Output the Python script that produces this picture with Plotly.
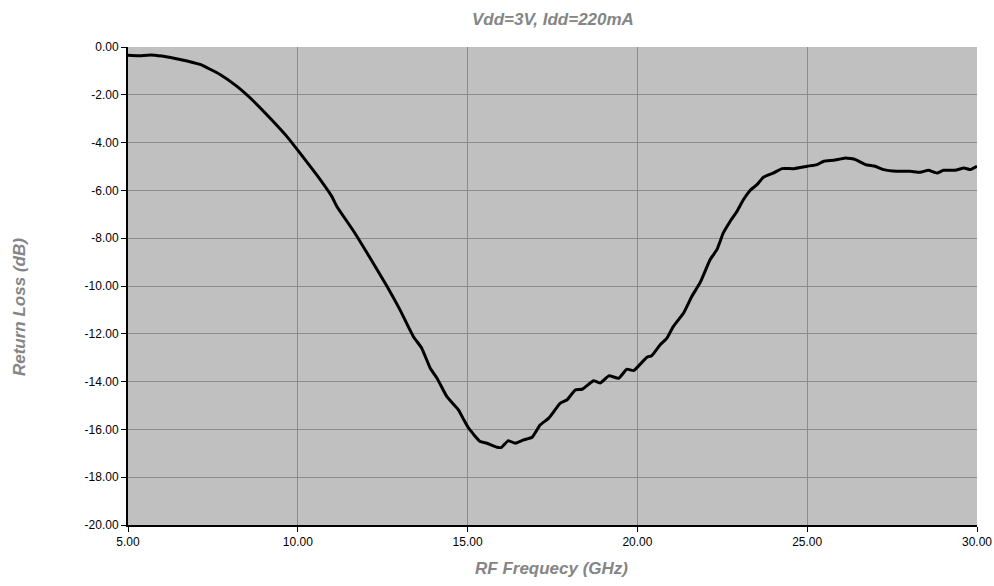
import plotly.graph_objects as go

freq_ghz = [5.0, 5.3, 5.65, 6.0, 6.53, 7.12, 7.71, 8.2, 8.7, 9.18, 9.67, 10.02, 10.66, 11.0, 11.15,
            11.65, 12.13, 12.63, 13.01, 13.4, 13.65, 13.9, 14.1, 14.39, 14.73, 14.89, 15.03, 15.37,
            15.57, 15.87, 16.0, 16.2, 16.4, 16.65, 16.9, 17.14, 17.39, 17.73, 17.93, 18.17, 18.37,
            18.61, 18.71, 18.9, 19.16, 19.45, 19.69, 19.89, 20.28, 20.42, 20.67, 20.87, 21.06, 21.36,
            21.6, 21.85, 22.14, 22.34, 22.53, 22.73, 22.93, 23.12, 23.32, 23.52, 23.72, 24.01, 24.26,
            24.6, 25.0, 25.29, 25.49, 25.78, 26.13, 26.42, 26.72, 27.0, 27.25, 27.64, 28.03, 28.33,
            28.57, 28.82, 29.01, 29.36, 29.61, 29.8, 30.0]
return_loss_db = [-0.35, -0.37, -0.33, -0.38, -0.52, -0.73, -1.15, -1.64, -2.27, -2.97, -3.73, -4.36,
                  -5.55, -6.25, -6.67, -7.72, -8.83, -10.02, -11.0, -12.11, -12.6, -13.44, -13.86,
                  -14.63, -15.18, -15.6, -15.95, -16.51, -16.58, -16.75, -16.75, -16.47, -16.58,
                  -16.44, -16.33, -15.81, -15.53, -14.9, -14.76, -14.35, -14.32, -14.06, -13.96,
                  -14.06, -13.76, -13.86, -13.48, -13.54, -12.98, -12.92, -12.46, -12.18, -11.69,
                  -11.13, -10.44, -9.85, -8.9, -8.48, -7.78, -7.3, -6.88, -6.39, -6.0, -5.76, -5.44,
                  -5.27, -5.09, -5.09, -4.99, -4.92, -4.78, -4.74, -4.64, -4.71, -4.92, -4.99, -5.13,
                  -5.2, -5.2, -5.24, -5.16, -5.27, -5.16, -5.16, -5.06, -5.13, -4.99]

x_ticks = [5, 10, 15, 20, 25, 30]
y_ticks = [0, -2, -4, -6, -8, -10, -12, -14, -16, -18, -20]

chart_title = "Vdd=3V, Idd=220mA"
x_title = "RF Frequecy (GHz)"
y_title = "Return Loss (dB)"

fig = go.Figure()
fig.add_trace(go.Scatter(x=freq_ghz, y=return_loss_db, mode="lines",
                         line=dict(color="black", width=3, shape="spline", smoothing=0.4),
                         showlegend=False, hoverinfo="skip"))

grey = "#8c8c8c"
title_font = dict(family="Liberation Sans, Arial, sans-serif", size=17, color="#858585")
fig.update_layout(
    width=994, height=586,
    margin=dict(l=128, r=17, t=47, b=61, autoexpand=False),
    paper_bgcolor="white", plot_bgcolor="#c0c0c0",
    font=dict(family="Liberation Sans, Arial, sans-serif", size=12, color="black"),
    annotations=[
        dict(text=f"<b><i>{chart_title}</i></b>", xref="paper", yref="paper",
             x=0.5006, y=1.0565, xanchor="center", yanchor="middle", showarrow=False,
             font=title_font),
        dict(text=f"<b><i>{x_title}</i></b>", xref="paper", yref="paper",
             x=0.4994, y=-0.09, xanchor="center", yanchor="middle", showarrow=False,
             font=title_font),
        dict(text=f"<b><i>{y_title}</i></b>", xref="paper", yref="paper",
             x=-0.1284, y=0.456, xanchor="center", yanchor="middle", showarrow=False,
             textangle=-90, font=title_font),
    ],
)
fig.update_xaxes(range=[5, 30], tickvals=x_ticks, ticktext=[f"{v:.2f}" for v in x_ticks],
                 showgrid=True, gridcolor=grey, gridwidth=1, automargin=False,
                 showline=True, linecolor="black", linewidth=2, mirror=False,
                 ticks="outside", ticklen=5, tickcolor="black", zeroline=False)
fig.update_yaxes(range=[-20, 0], tickvals=y_ticks, ticktext=[f"{v:.2f}" for v in y_ticks],
                 showgrid=True, gridcolor=grey, gridwidth=1, automargin=False,
                 showline=True, linecolor="black", linewidth=2,
                 ticks="outside", ticklen=5, tickcolor="black", zeroline=False)
fig.write_html("out.html", config={"displayModeBar": False},
               post_script="document.body.style.margin='0';document.body.style.overflow='hidden';")
